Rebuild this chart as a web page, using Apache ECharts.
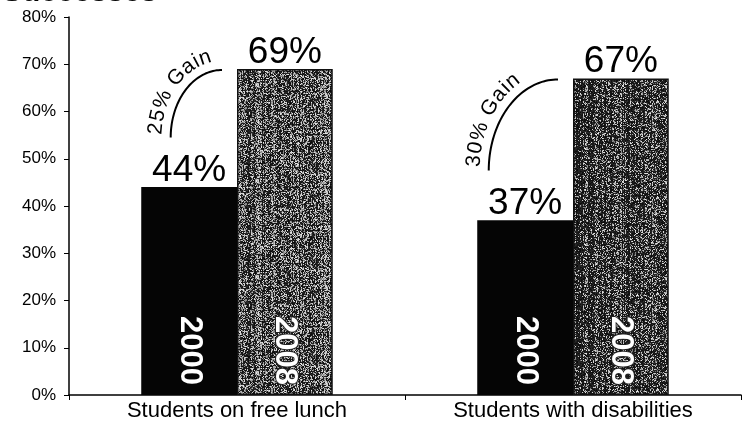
<!DOCTYPE html>
<html>
<head>
<meta charset="utf-8">
<script src="https://cdn.jsdelivr.net/npm/echarts@6/dist/echarts.min.js"></script>
<style>
  html, body { margin: 0; padding: 0; background: #ffffff; }
  #chart { width: 744px; height: 425px; }
</style>
</head>
<body>
<div id="chart"></div>
<script>
// Chart data
const categories = ['Students on free lunch', 'Students with disabilities'];
const years = ['2000', '2008'];
const values2000 = [44, 37];
const values2008 = [69, 67];
const gainLabels = ['25% Gain', '30% Gain'];
const yMax = 80;
const yStep = 10;
const titleText = 'Successes';

const FONT = '"Liberation Sans", Arial, Helvetica, sans-serif';

// Deterministic stipple texture for the 2008 bars
function hash(x, y, s) {
  let h = (x * 374761393 + y * 668265263 + s * 2147483647) | 0;
  h = Math.imul(h ^ (h >>> 13), 1274126177);
  h = h ^ (h >>> 16);
  return ((h >>> 0) % 10000) / 10000;
}
function stipple(darkShare, seed) {
  const size = 96;
  const c = document.createElement('canvas');
  c.width = size; c.height = size;
  const ctx = c.getContext('2d');
  const img = ctx.createImageData(size, size);
  for (let y = 0; y < size; y++) {
    for (let x = 0; x < size; x++) {
      const streak = (hash(x, 0, seed + 11) - 0.5) * 0.45;
      const dark = hash(x, y, seed) < darkShare + streak;
      const v = dark
        ? 10 + Math.floor(hash(y, x, seed + 3) * 35)
        : 105 + Math.floor(hash(x + 7, y, seed) * 130);
      const i = (y * size + x) * 4;
      img.data[i] = v; img.data[i + 1] = v; img.data[i + 2] = v; img.data[i + 3] = 255;
    }
  }
  ctx.putImageData(img, 0, 0);
  return { image: c, repeat: 'repeat' };
}
const textures = [stipple(0.56, 5), stipple(0.72, 17)];

const chart = echarts.init(document.getElementById('chart'), null, { renderer: 'canvas' });

function yearLabel(text, outlined) {
  return {
    show: true,
    position: 'insideBottom',
    rotate: -90,
    align: 'right',
    verticalAlign: 'middle',
    distance: 10,
    color: '#ffffff',
    fontFamily: FONT,
    fontWeight: 'bold',
    fontSize: 31,
    textBorderColor: outlined ? '#222' : 'transparent',
    textBorderWidth: outlined ? 2 : 0,
    formatter: () => text
  };
}

function valueLabel(arr) {
  return {
    show: true,
    position: 'top',
    distance: -2,
    color: '#000000',
    fontFamily: FONT,
    fontSize: 37,
    formatter: p => arr[p.dataIndex] + '%'
  };
}

const option = {
  animation: false,
  backgroundColor: '#ffffff',
  title: {
    text: titleText,
    left: -3,
    top: -27,
    textStyle: { fontFamily: FONT, fontSize: 30, fontWeight: 'bold', color: '#000' }
  },
  grid: { left: 69, right: 3, top: 17, bottom: 30, containLabel: false },
  xAxis: {
    type: 'category',
    data: categories,
    boundaryGap: true,
    axisLine: { lineStyle: { color: '#000', width: 1.5 } },
    axisTick: { show: true, length: 5, lineStyle: { color: '#000' } },
    axisLabel: { color: '#000', fontFamily: FONT, fontSize: 22, margin: 5 }
  },
  yAxis: {
    type: 'value',
    min: 0,
    max: yMax,
    interval: yStep,
    axisLine: { show: true, lineStyle: { color: '#000', width: 1.5 } },
    axisTick: { show: true, length: 5, lineStyle: { color: '#000' } },
    splitLine: { show: false },
    axisLabel: { color: '#000', fontFamily: FONT, fontSize: 17, margin: 13, formatter: '{value}%' }
  },
  series: [
    {
      name: years[0], type: 'bar', stack: 'y0', data: values2000,
      barGap: '0%', barCategoryGap: '43%',
      itemStyle: { color: '#050505' },
      label: yearLabel(years[0], false)
    },
    {
      name: years[0] + ' value', type: 'bar', stack: 'y0', data: values2000.map(() => 0),
      barGap: '0%', barCategoryGap: '43%',
      itemStyle: { color: 'transparent' },
      label: valueLabel(values2000)
    },
    {
      name: years[1], type: 'bar', stack: 'y1',
      data: values2008.map((v, i) => ({ value: v, itemStyle: { color: textures[i] } })),
      barGap: '0%', barCategoryGap: '43%',
      itemStyle: { borderColor: '#111', borderWidth: 1.5 },
      label: yearLabel(years[1], true)
    },
    {
      name: years[1] + ' value', type: 'bar', stack: 'y1', data: values2008.map(() => 0),
      barGap: '0%', barCategoryGap: '43%',
      itemStyle: { color: 'transparent' },
      label: valueLabel(values2008)
    }
  ]
};

chart.setOption(option);

// Curved "Gain" annotations between each pair of bars
function gainGraphics() {
  const els = [];
  const measure = document.createElement('canvas').getContext('2d');
  const fontSize = 21;
  const spacing = 1.5;
  measure.font = fontSize + 'px ' + FONT;
  categories.forEach((cat, i) => {
    const center = chart.convertToPixel({ xAxisIndex: 0 }, i);
    const topY = chart.convertToPixel({ yAxisIndex: 0 }, values2008[i]) + 1;
    const bottomY = chart.convertToPixel({ yAxisIndex: 0 }, values2000[i] + 10.5);
    const cx = center - 15;
    const cy = bottomY;
    const ry = bottomY - topY;
    const rx = 0.76 * ry;

    // the arc itself
    const pts = [];
    for (let a = 180; a >= 90; a -= 2) {
      const t = a * Math.PI / 180;
      pts.push([cx + rx * Math.cos(t), cy - ry * Math.sin(t)]);
    }
    els.push({
      type: 'polyline', silent: true,
      shape: { points: pts },
      style: { stroke: '#000', lineWidth: 2, fill: null }
    });

    // the text follows a slightly larger ellipse
    const d = 15;
    const ex = rx + d, ey = ry + d;
    const table = [];
    let acc = 0, prev = null;
    for (let a = 178; a >= 40; a -= 0.2) {
      const t = a * Math.PI / 180;
      const p = [cx + ex * Math.cos(t), cy - ey * Math.sin(t)];
      if (prev) acc += Math.hypot(p[0] - prev[0], p[1] - prev[1]);
      table.push({ s: acc, t: t, p: p });
      prev = p;
    }
    let pos = 0;
    for (const ch of gainLabels[i]) {
      const w = measure.measureText(ch).width;
      const sMid = pos + w / 2;
      let k = 0;
      while (k < table.length - 1 && table[k].s < sMid) k++;
      const row = table[k];
      // screen-space tangent while walking from the left end to the top
      const tx = ex * Math.sin(row.t);
      const ty = ey * Math.cos(row.t);
      if (ch !== ' ') {
        els.push({
          type: 'text', silent: true,
          x: row.p[0], y: row.p[1],
          rotation: Math.atan2(-ty, tx),
          style: {
            text: ch, fill: '#000',
            font: fontSize + 'px ' + FONT,
            align: 'center', verticalAlign: 'middle',
            textAlign: 'center', textVerticalAlign: 'middle'
          }
        });
      }
      pos += w + spacing;
    }
  });
  return els;
}

chart.setOption({ graphic: { elements: gainGraphics() } });
</script>
</body>
</html>
